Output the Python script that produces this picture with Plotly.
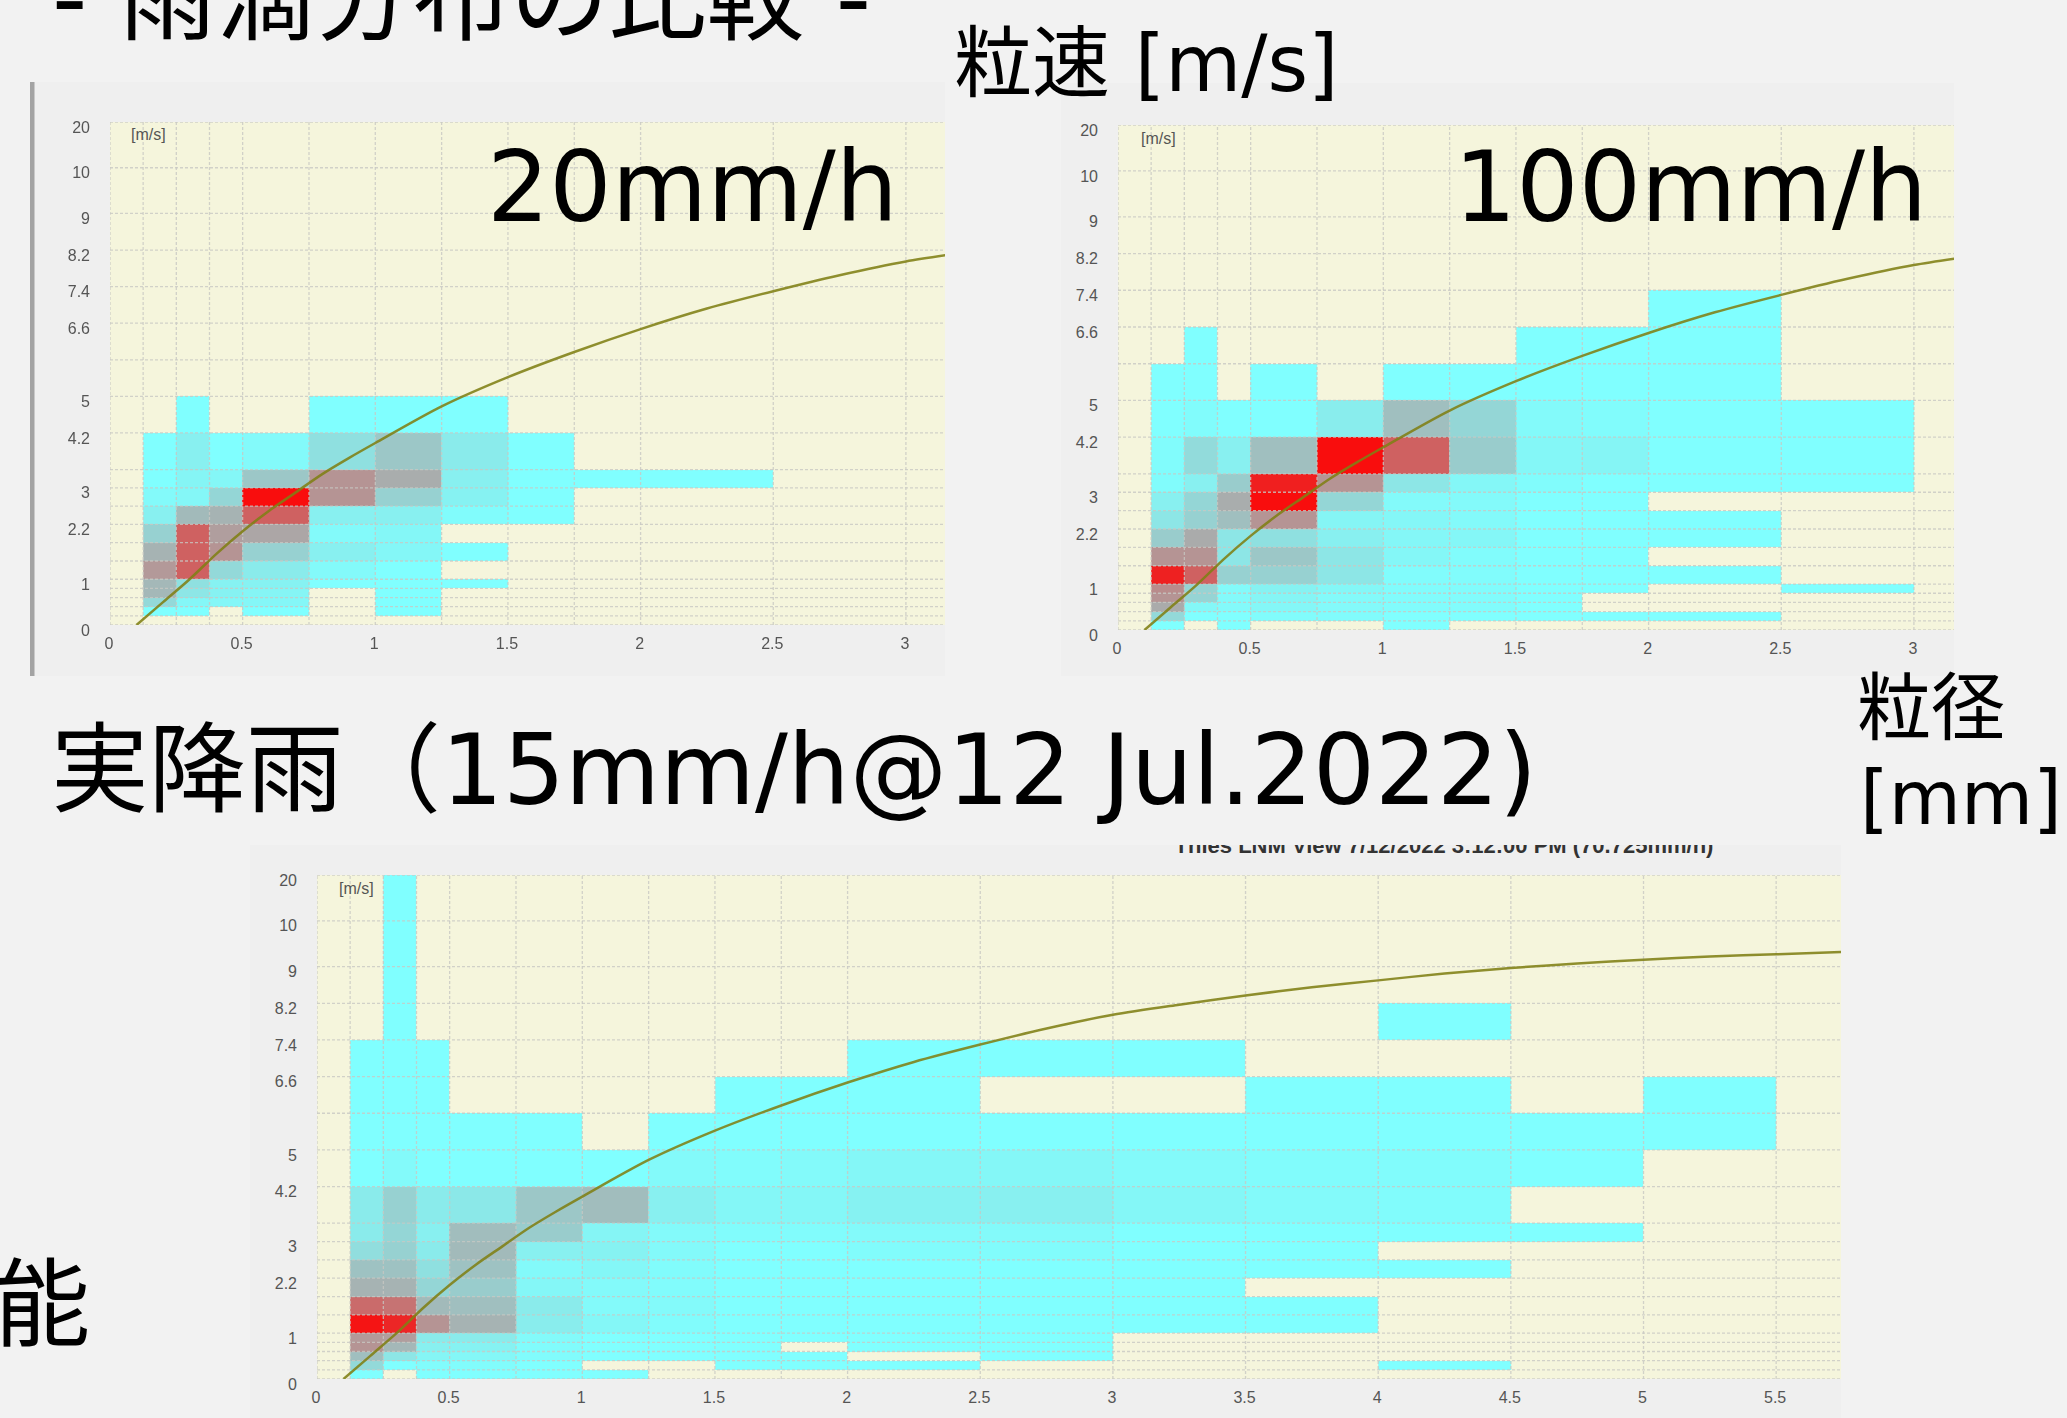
import numpy as np
import plotly.graph_objects as go

W, H = 2067, 1418
_ = None

# Drop diameter bin edges [mm] and fall-speed bin edges [m/s]
x_edges = [0.125, 0.25, 0.375, 0.5, 0.75, 1, 1.25, 1.5, 1.75, 2, 2.5, 3, 3.5, 4, 4.5, 5, 5.5]
y_edges = [0, .2, .4, .6, .8, 1, 1.4, 1.8, 2.2, 2.6, 3, 3.4, 4.2, 5, 5.8, 6.6, 7.4, 8.2, 9, 10, 20]
# the instrument's non-linear speed scale: relative height of every edge
y_scale = [0, 1, 2, 3, 4, 5, 7, 9, 11, 13, 15, 17, 21, 25, 29, 33, 37, 41, 45, 50, 55]
y_tick_speeds = [0, 1, 2.2, 3, 4.2, 5, 6.6, 7.4, 8.2, 9, 10, 20]
y_tick_labels = ["0", "1", "2.2", "3", "4.2", "5", "6.6", "7.4", "8.2", "9", "10", "20"]
x_ticks_short = [0, 0.5, 1, 1.5, 2, 2.5, 3]
x_ticks_long = [0, 0.5, 1, 1.5, 2, 2.5, 3, 3.5, 4, 4.5, 5, 5.5]

# Relative drop count (0 cyan .. 100 red), rows bottom to top, columns by diameter bin
z_20mm = [
    [],
    [0, 0, _, 0, _, 0],
    [15, 3, 3, 3, _, 0],
    [28, 10, 5, 4, _, 0],
    [28, 12, 5, 5, 0, 0, 0],
    [40, 62, 15, 8, 2, 0],
    [30, 62, 42, 18, 6, 3, 0],
    [18, 62, 38, 35, 2, 3],
    [6, 27, 30, 62, 6, 6, 1, 0],
    [2, 3, 16, 95, 42, 18, 5, 0],
    [0, 4, 3, 22, 42, 32, 6, 0, 0, 0],
    [0, 6, 0, 2, 12, 22, 8, 0],
    [_, 0, _, _, 0, 0, 0],
]
z_100mm = [
    [0, _, 0, _, _, 0],
    [15, 0, 0, 1, 1, 0, 0, 0, 0, 0],
    [33, 3, 2, 3, 2, 1, 1, 0],
    [42, 17, 2, 4, 2, 1, 1, 0],
    [45, 17, 2, 5, 3, 1, 1, 0, 0, _, 0],
    [87, 62, 18, 18, 10, 1, 1, 0, 0, 0],
    [42, 42, 10, 22, 10, 3, 1, 0, 0],
    [20, 33, 10, 12, 6, 3, 3, 0, 0, 0],
    [10, 18, 25, 42, 4, 3, 2, 0, 0, 0],
    [6, 16, 32, 95, 16, 2, 2, 0, 0],
    [1, 6, 20, 88, 42, 10, 3, 1, 0, 0, 0],
    [1, 14, 6, 25, 95, 62, 20, 3, 4, 0, 0],
    [0, 1, 0, 0, 7, 25, 16, 2, 1, 0, 0],
    [0, 0, _, 0, _, 0, 0, 0, 0, 0],
    [_, 0, _, _, _, _, _, 0, 0, 0],
    [_, _, _, _, _, _, _, _, _, 0],
]
z_real = [
    [0, _, 0, 0, 0, 0],
    [15, 0, 1, 1, 0, _, _, 0, 0, 0, _, _, _, 0],
    [25, 10, 4, 3, 1, 0, 0, 0, 0, _, 0],
    [42, 28, 6, 5, 1, 0, 0, 0, _, 0, 0],
    [40, 38, 8, 8, 2, 0, 0, 0, 0, 0, 0],
    [92, 85, 42, 30, 7, 3, 1, 0, 0, 0, 0, 0, 0],
    [58, 55, 27, 25, 8, 2, 2, 0, 0, 0, 0, 0, 0],
    [30, 30, 16, 20, 3, 2, 1, 0, 0, 0, 0, 0],
    [24, 24, 12, 24, 2, 3, 1, 0, 0, 0, 0, 0, 0, 0],
    [13, 18, 8, 27, 6, 5, 2, 0, 0, 1, 1, 0, 0],
    [8, 16, 6, 26, 20, 4, 2, 1, 1, 2, 2, 0, 0, 0, 0],
    [8, 18, 8, 9, 22, 26, 6, 3, 3, 5, 6, 3, 2, 1],
    [0, 2, 0, 0, 0, 0, 2, 1, 2, 3, 3, 2, 1, 1, 0],
    [0, 0, 0, 0, 0, _, 0, 0, 0, 0, 0, 0, 0, 0, 0, 0],
    [0, 0, 0, _, _, _, _, 0, 0, 0, _, _, 0, 0, _, 0],
    [0, 0, 0, _, _, _, _, _, _, 0, 0, 0],
    [_, 0, _, _, _, _, _, _, _, _, _, _, _, 0],
    [_, 0],
    [_, 0],
    [_, 0],
]

# Reference terminal-velocity curve
curve_d = [.1, .2, .3, .4, .5, .6, .7, .8, .9, 1, 1.25, 1.5, 1.75, 2, 2.25, 2.5, 2.75, 3, 3.25,
           3.5, 3.75, 4, 4.25, 4.5, 4.75, 5, 5.25, 5.5, 5.75]
curve_v = [0, .5, 1.0, 1.55, 2.05, 2.5, 2.9, 3.3, 3.65, 3.98, 4.78, 5.42, 5.97, 6.47, 6.92,
           7.3, 7.65, 7.95, 8.17, 8.37, 8.55, 8.7, 8.85, 8.97, 9.07, 9.15, 9.22, 9.27, 9.32]


def to_scale(v):
    return np.interp(v, y_edges, y_scale).tolist()


def rect_z(rows):
    out = []
    for i in range(len(y_edges) - 1):
        r = rows[i] if i < len(rows) else []
        out.append(list(r) + [None] * (len(x_edges) - 1 - len(r)))
    return out


def fx(px):
    return px / W


def fy(px):
    return 1 - px / H


PX_PER_MM = 265.3
panels = [
    dict(z=z_20mm, left=110, right=945, top=122, bottom=625, xt=x_ticks_short, unit=(148, 135)),
    dict(z=z_100mm, left=1118, right=1954, top=125, bottom=630, xt=x_ticks_short, unit=(1158, 139)),
    dict(z=z_real, left=317, right=1841, top=875, bottom=1379, xt=x_ticks_long, unit=(356, 888)),
]

fig = go.Figure()
shapes = []
for r in [(32, 82, 945, 676), (1061, 83, 1954, 676), (250, 845, 1841, H)]:
    shapes.append(dict(type="rect", xref="paper", yref="paper", layer="below", x0=fx(r[0]), x1=fx(r[2]),
                       y0=fy(r[1]), y1=fy(r[3]), fillcolor="#efefef", line_width=0))
shapes.append(dict(type="rect", xref="paper", yref="paper", layer="below", x0=fx(30), x1=fx(34.5),
                   y0=fy(82), y1=fy(676), fillcolor="#a3a3a3", line_width=0))

annotations = []
layout_axes = {}
tick_font = dict(family="Liberation Sans, Arial, sans-serif", size=16, color="#555555")

for i, p in enumerate(panels, start=1):
    xname, yname = f"x{i}" if i > 1 else "x", f"y{i}" if i > 1 else "y"
    xkey, ykey = f"xaxis{i}" if i > 1 else "xaxis", f"yaxis{i}" if i > 1 else "yaxis"
    xmax = (p["right"] - p["left"]) / PX_PER_MM
    shapes.append(dict(type="rect", xref="paper", yref="paper", layer="below", x0=fx(p["left"]), x1=fx(p["right"]),
                       y0=fy(p["top"]), y1=fy(p["bottom"]), fillcolor="#f5f5dc", line_width=0))
    fig.add_trace(go.Heatmap(x=x_edges, y=y_scale, z=rect_z(p["z"]), zmin=0, zmax=100, showscale=False,
                             colorscale=[[0, "#80ffff"], [1, "#ff0000"]], hoverongaps=False,
                             xaxis=xname, yaxis=yname))
    gx = [0] + [e for e in x_edges if e <= xmax]
    vx, vy = [], []
    for e in gx:
        vx += [e, e, None]
        vy += [0, 55, None]
    hx, hy = [], []
    for s in y_scale:
        hx += [0, xmax, None]
        hy += [s, s, None]
    fig.add_trace(go.Scatter(x=vx + hx, y=vy + hy, mode="lines", hoverinfo="skip", showlegend=False,
                             line=dict(color="rgba(200,200,195,0.8)", width=1.3, dash="3px,2px"),
                             xaxis=xname, yaxis=yname))
    fig.add_trace(go.Scatter(x=curve_d, y=to_scale(curve_v), mode="lines", showlegend=False,
                             line=dict(color="rgba(128,128,20,0.88)", width=2.5, shape="spline", smoothing=0.8),
                             xaxis=xname, yaxis=yname))
    layout_axes[xkey] = dict(domain=[fx(p["left"]), fx(p["right"])], range=[0, xmax], anchor=yname,
                             showgrid=False, zeroline=False, showline=False, ticks="",
                             tickmode="array", tickvals=p["xt"], ticktext=[f"{t:g}" for t in p["xt"]],
                             tickfont=tick_font, ticklabelstandoff=7, ticklabelshift=-1)
    layout_axes[ykey] = dict(domain=[fy(p["bottom"]), fy(p["top"])], range=[0, 55], anchor=xname,
                             showgrid=False, zeroline=False, showline=False, ticks="",
                             tickmode="array", tickvals=to_scale(y_tick_speeds), ticktext=y_tick_labels,
                             tickfont=tick_font, ticklabelstandoff=19, ticklabelshift=5)
    annotations.append(dict(xref="paper", yref="paper", x=fx(p["unit"][0]), y=fy(p["unit"][1]), text="[m/s]",
                            showarrow=False, font=dict(family="Liberation Sans, Arial, sans-serif", size=16, color="#555555"),
                            xanchor="center", yanchor="middle"))

# Header of the third chart, cut off by the slide layout: clipped by a small hidden plot area
fig.add_trace(go.Scatter(x=[0.49], y=[0.9], mode="text", showlegend=False, hoverinfo="skip",
                         text=["<b>Thies LNM View 7/12/2022 3:12:00 PM (70.725mm/h)</b>"], textposition="middle center",
                         textfont=dict(family="Liberation Sans, Arial, sans-serif", size=22, color="#333333"),
                         xaxis="x4", yaxis="y4", cliponaxis=True))
layout_axes["xaxis4"] = dict(domain=[fx(1150), fx(1750)], range=[0, 1], visible=False, anchor="y4")
layout_axes["yaxis4"] = dict(domain=[fy(870), fy(845)], range=[0, 1], visible=False, anchor="x4")

big = "DejaVu Sans, Noto Sans CJK JP, sans-serif"
texts = [
    ("- 雨滴分布の比較 -", 461, -2, 98),
    ("粒速 [m/s]", 1146, 64, 78),
    ("20mm/h", 692, 187, 98),
    ("100mm/h", 1690, 187, 98),
    ("粒径", 1931, 708, 74),
    ("[mm]", 1961, 798, 74),
    ("実降雨（15mm/h@12 Jul.2022)", 794, 770, 97.5),
    ("能", 42, 1305, 96),
]
for t, x, y, s in texts:
    annotations.append(dict(xref="paper", yref="paper", x=fx(x), y=fy(y), text=t, showarrow=False,
                            xanchor="center", yanchor="middle", font=dict(family=big, size=s, color="#000000")))
annotations.append(dict(xref="paper", yref="paper", x=fx(1441), y=fy(1424), text="Diameter[mm]", showarrow=False,
                        xanchor="center", yanchor="middle",
                        font=dict(family="Liberation Sans, Arial, sans-serif", size=17, color="#444444")))

fig.update_layout(width=W, height=H, autosize=False, margin=dict(l=0, r=0, t=0, b=0, pad=0, autoexpand=False),
                  paper_bgcolor="#f2f2f2", plot_bgcolor="rgba(0,0,0,0)", showlegend=False,
                  shapes=shapes, annotations=annotations, **layout_axes)

post = """
document.body.style.margin='0';
document.body.style.background='#f2f2f2';
var st=document.createElement('style');
st.textContent='.heatmaplayer{filter:blur(0.6px)} .xtick text,.ytick text{filter:blur(0.4px)}';
document.head.appendChild(st);
"""
fig.write_html("out.html", post_script=post, config=dict(displayModeBar=False))
